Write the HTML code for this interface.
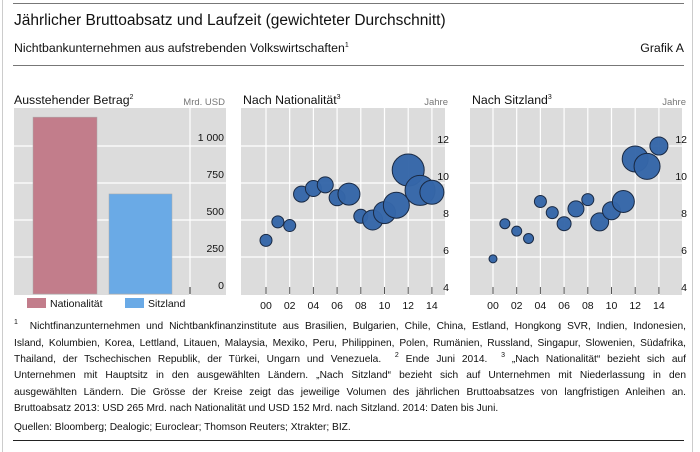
<!DOCTYPE html>
<html><head><meta charset="utf-8"><style>
body{margin:0;background:#fff;width:700px;height:452px;overflow:hidden;font-family:"Liberation Sans",sans-serif;color:#111;position:relative}
.abs{position:absolute}
.fl{position:absolute;left:14px;width:672px;font-size:10.2px;line-height:13px;text-align:justify;text-align-last:justify;white-space:normal}
.fl.last{text-align-last:left}
sup{font-size:7px;vertical-align:5px;line-height:0}
</style></head><body>
<div class="abs" style="left:2px;top:0;width:1px;height:452px;background:#ccc"></div>
<div class="abs" style="left:692px;top:0;width:1px;height:452px;background:#ccc"></div>
<div class="abs" style="left:13px;top:3px;width:671px;height:1px;background:#777"></div>
<div class="abs" style="left:14px;top:12px;font-size:15.5px">Jährlicher Bruttoabsatz und Laufzeit (gewichteter Durchschnitt)</div>
<div class="abs" style="left:14px;top:41px;font-size:12.3px">Nichtbankunternehmen aus aufstrebenden Volkswirtschaften<sup>1</sup></div>
<div class="abs" style="left:620px;top:41px;font-size:12.3px;width:64px;text-align:right">Grafik A</div>
<div class="abs" style="left:13px;top:65px;width:671px;height:1px;background:#777"></div>
<svg class="abs" style="left:0;top:66px" width="700" height="250" id="charts"></svg>
<div>
<div class="fl" style="top:320px"><sup>1</sup>&nbsp; Nichtfinanzunternehmen und Nichtbankfinanzinstitute aus Brasilien, Bulgarien, Chile, China, Estland, Hongkong SVR, Indien, Indonesien,</div>
<div class="fl" style="top:337px">Island, Kolumbien, Korea, Lettland, Litauen, Malaysia, Mexiko, Peru, Philippinen, Polen, Rumänien, Russland, Singapur, Slowenien, Südafrika,</div>
<div class="fl" style="top:353px">Thailand, der Tschechischen Republik, der Türkei, Ungarn und Venezuela. &nbsp;<sup>2</sup> Ende Juni 2014. &nbsp;<sup>3</sup> „Nach Nationalität“ bezieht sich auf</div>
<div class="fl" style="top:369px">Unternehmen mit Hauptsitz in den ausgewählten Ländern. „Nach Sitzland“ bezieht sich auf Unternehmen mit Niederlassung in den</div>
<div class="fl" style="top:386px">ausgewählten Ländern. Die Grösse der Kreise zeigt das jeweilige Volumen des jährlichen Bruttoabsatzes von langfristigen Anleihen an.</div>
<div class="fl last" style="top:402px">Bruttoabsatz 2013: USD 265 Mrd. nach Nationalität und USD 152 Mrd. nach Sitzland. 2014: Daten bis Juni.</div>
</div>
<div class="abs" style="left:14px;top:422px;font-size:10.2px">Quellen: Bloomberg; Dealogic; Euroclear; Thomson Reuters; Xtrakter; BIZ.</div>
<div class="abs" style="left:13px;top:440px;width:671px;height:1px;background:#222"></div>
<script>
const barCategories=["Nationalität","Sitzland"];
const barValues=[1195,676];
const barTicks=[0,250,500,750,1000];
const years=[0,1,2,3,4,5,6,7,8,9,10,11,12,13,14];
const xTickLabels=["00","02","04","06","08","10","12","14"];
const yTicks=[4,6,8,10,12];
const natMaturity=[6.9,7.9,7.7,9.4,9.7,9.9,9.2,9.4,8.2,8.0,8.4,8.8,10.7,9.6,9.5];
const natSize=[6,6,6,8,8,8,8,11,7,10,11,13,16,15,12];
const resMaturity=[5.9,7.8,7.4,7.0,9.0,8.4,7.8,8.6,9.1,7.9,8.5,9.0,11.3,10.9,12.0];
const resSize=[4,5,5,5,6,6,7,8,6,9,9,11,13,13,9];

const NS="http://www.w3.org/2000/svg";
const svg=document.getElementById('charts');
const OY=66;
function el(t,a,p){const e=document.createElementNS(NS,t);for(const k in a)e.setAttribute(k,a[k]);(p||svg).appendChild(e);return e;}
function txt(x,y,s,anchor,size,fill,name){const t=el('text',{x:x,y:y,'text-anchor':anchor,'font-size':size,fill:fill,'font-family':'Liberation Sans, sans-serif'});t.textContent=s;


return t;}
function titleSup(x,y,s,sup,name){const t=txt(x,y,s,"start",12.3,"#111",name);
 const ts=el('tspan',{'font-size':7,dy:-5},t);ts.textContent=sup;return t;}
function yVal(v,min,per){return 294-OY-(v-min)*per;}

const p1=el('g',{});


titleSup(14,98-OY+6,"Ausstehender Betrag","2","bar-panel-title");
txt(225,105-OY,"Mrd. USD","end",9.5,"#777","bar-unit-label");
el('rect',{x:14,y:108-OY,width:212,height:187,fill:'#dcdcdc'},p1);
const by=v=>yVal(v,0,37/250);
barTicks.forEach(v=>{if(v>0)el('line',{x1:14,x2:226,y1:by(v),y2:by(v),stroke:'#fff','stroke-width':1.2},p1);});
el('line',{x1:190,x2:190,y1:108-OY,y2:295-OY,stroke:'#fff','stroke-width':1.2},p1);
const barX=[33,109],barW=[64,63],barC=['#c27d8b','#6aaae6'];
barValues.forEach((v,i)=>{const r=el('rect',{x:barX[i],y:by(v),width:barW[i],height:by(0)-by(v),fill:barC[i],stroke:'#aaa','stroke-width':0.5},p1);

});
barTicks.forEach(v=>txt(224,by(v)-5,v>=1000?"1 000":String(v),"end",10.5,"#111","bar-y-tick"));
el('line',{x1:190,x2:190,y1:287-OY,y2:294-OY,stroke:'#333','stroke-width':1},p1);
const lgX=[27,125];
barCategories.forEach((c,i)=>{const r=el('rect',{x:lgX[i],y:298-OY,width:19,height:10,fill:barC[i]});


txt(lgX[i]+23,307-OY,c,"start",10.5,"#111","legend-entry");});

function bubble(name,title,left,right,x0,mat,size){
 const g=el('g',{});
 
 
 titleSup(left+2,98-OY+6,title,"3",name+"-title");
 txt(right+3,105-OY,"Jahre","end",9.5,"#777",name+"-unit");
 el('rect',{x:left,y:108-OY,width:right-left,height:187,fill:'#dcdcdc'},g);
 const xs=yr=>x0+yr*11.85;
 const ys=v=>yVal(v,4,18.5);
 for(let yr=0;yr<=16;yr+=2)el('line',{x1:xs(yr),x2:xs(yr),y1:108-OY,y2:295-OY,stroke:'#fff','stroke-width':1.2},g);
 [6,8,10,12].forEach(v=>el('line',{x1:left,x2:right,y1:ys(v),y2:ys(v),stroke:'#fff','stroke-width':1.2},g));
 years.forEach((yr,i)=>{const c=el('circle',{cx:xs(yr),cy:ys(mat[i]),r:size[i],fill:'#3566a8',stroke:'#1a2a44','stroke-width':1,'fill-opacity':0.97},g);
 
 });
 for(let yr=0;yr<=14;yr+=2)el('line',{x1:xs(yr),x2:xs(yr),y1:287-OY,y2:294-OY,stroke:'#555','stroke-width':1},g);
 xTickLabels.forEach((l,i)=>txt(xs(i*2),309-OY,l,"middle",10.5,"#111",name+"-x-tick"));
 yTicks.forEach(v=>txt(right+4,ys(v)-3,String(v),"end",10.5,"#111",name+"-y-tick"));
}
bubble('nationality-panel','Nach Nationalität',241,445,266,natMaturity,natSize);
bubble('residence-panel','Nach Sitzland',470,683,493,resMaturity,resSize);
</script>
</body></html>
